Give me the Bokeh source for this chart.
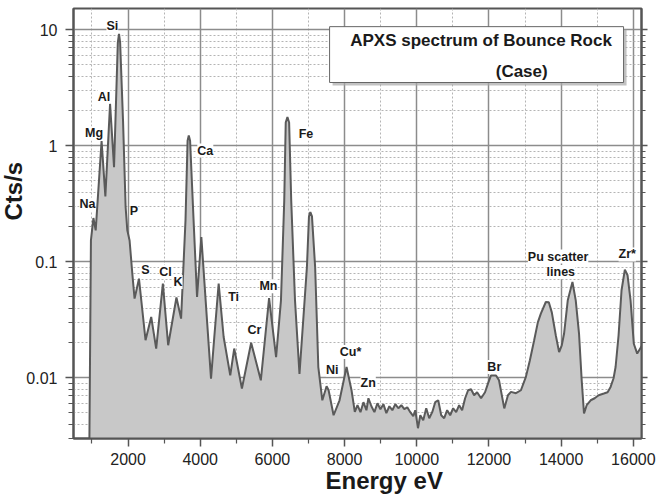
from bokeh.plotting import figure
from bokeh.models import (ColumnDataSource, FixedTicker, LogAxis, Label, LabelSet,
                          CustomJSTickFormatter, Title)
from bokeh.core.properties import value
from bokeh.embed import file_html
from bokeh.resources import INLINE

# ---- spectrum (energy in eV, counts per second) ----
energy = [930, 972, 1041, 1104, 1267, 1372, 1502, 1612, 1717, 1750, 1781, 1861, 1933, 1980,
          2043, 2118, 2181, 2303, 2485, 2642, 2780, 2965, 3112, 3341, 3470, 3592, 3650, 3683,
          3719, 3816, 3912, 4031, 4188, 4299, 4390, 4511, 4649, 4832, 4942, 5155, 5411, 5679,
          5908, 6102, 6237, 6328, 6369, 6416, 6463, 6521, 6626, 6750, 6956, 7013, 7051, 7096,
          7184, 7272, 7383, 7501, 7557, 7695, 7860, 8054, 8192, 8283, 8357, 8440, 8522, 8605,
          8660, 8743, 8826, 8909, 8992, 9075, 9157, 9240, 9323, 9406, 9489, 9572, 9655, 9737,
          9820, 9903, 9958, 10033, 10097, 10179, 10262, 10345, 10428, 10511, 10594, 10677,
          10759, 10842, 10925, 11008, 11091, 11174, 11256, 11339, 11422, 11505, 11588, 11671,
          11781, 11891, 11974, 12057, 12195, 12278, 12424, 12526, 12609, 12747, 12885, 13023,
          13134, 13252, 13354, 13437, 13575, 13658, 13741, 13851, 13943, 14017, 14081, 14183,
          14313, 14404, 14495, 14569, 14633, 14707, 14818, 14928, 15039, 15183, 15287, 15370,
          15452, 15508, 15591, 15673, 15765, 15840, 15923, 16013, 16107, 16245]
counts = [0.003, 0.153, 0.239, 0.187, 1.10, 0.367, 2.31, 0.656, 7.78, 9.24, 7.78, 1.66, 0.297, 0.187,
          0.153, 0.0796, 0.0482, 0.0716, 0.0211, 0.0335, 0.0179, 0.0649, 0.0191, 0.0493, 0.0324, 0.228, 1.11, 1.23,
          1.11, 0.228, 0.0498, 0.164, 0.0313, 0.00986, 0.0225, 0.0649, 0.0225, 0.0105, 0.0179, 0.0081, 0.0201, 0.00953,
          0.0488, 0.0151, 0.0466, 0.339, 1.59, 1.77, 1.59, 0.339, 0.0466, 0.0108, 0.0902, 0.247, 0.269, 0.247,
          0.0902, 0.0124, 0.00641, 0.00847, 0.00782, 0.00476, 0.00641, 0.0124, 0.00782, 0.00508, 0.00581, 0.00506, 0.00617, 0.00526,
          0.00667, 0.00569, 0.00506, 0.00604, 0.00537, 0.00593, 0.00496, 0.00569, 0.00526, 0.00593, 0.00547, 0.00581, 0.00537, 0.00558,
          0.00506, 0.00467, 0.00526, 0.00368, 0.00476, 0.00431, 0.00547, 0.00449, 0.00506, 0.00617, 0.00641, 0.00476,
          0.00449, 0.00526, 0.00476, 0.00547, 0.00506, 0.00581, 0.00526, 0.00667, 0.00782, 0.00798, 0.00708, 0.00752,
          0.00667, 0.00752, 0.00897, 0.0105, 0.0105, 0.00953, 0.00545, 0.00708, 0.00757, 0.00738, 0.00782, 0.0102,
          0.0142, 0.0211, 0.0301, 0.0358, 0.0451, 0.0448, 0.0367, 0.0233, 0.0167, 0.0191, 0.0241, 0.0466,
          0.0670, 0.0466, 0.0241, 0.00953, 0.00493, 0.00581, 0.00641, 0.00667, 0.00708, 0.00733, 0.00752, 0.00835,
          0.00993, 0.0124, 0.0233, 0.0569, 0.0857, 0.0766, 0.0466, 0.0197, 0.0162, 0.0191]

# ---- peak labels ----
label_text = ["Na", "Mg", "Al", "Si", "P", "S", "Cl", "K", "Ca", "Ti", "Cr", "Mn", "Fe",
              "Ni", "Cu*", "Zn", "Br", "Pu scatter", "lines", "Zr*"]
label_energy = [875, 1060, 1336, 1565, 2164, 2485, 3037, 3388, 4141, 4925, 5505, 5891, 6930,
                7659, 8164, 8653, 12148, 13915, 13991, 15832]
label_counts = [0.313, 1.28, 2.66, 10.9, 0.274, 0.0845, 0.0817, 0.067, 0.912, 0.0498, 0.0261, 0.0615, 1.27,
                0.0118, 0.0167, 0.00904, 0.0124, 0.111, 0.0817, 0.116]

# ---- axes ----
x_major = [2000, 4000, 6000, 8000, 10000, 12000, 14000, 16000]
x_minor = [1000, 3000, 5000, 7000, 9000, 11000, 13000, 15000]
y_major = [0.01, 0.1, 1, 10]
y_minor = [m * d for d in (0.001, 0.01, 0.1, 1) for m in range(2, 10)]

title_lines = ["APXS spectrum of Bounce Rock", "(Case)"]
x_label = "Energy eV"
y_label = "Cts/s"

FONT = "Liberation Sans"
DARK = "#555555"

p = figure(width=658, height=500, x_range=(489, 16226), y_range=(0.003, 15.3),
           y_axis_type="log", output_backend="svg", toolbar_location=None,
           min_border_left=71, min_border_right=17, min_border_top=8, min_border_bottom=62)

p.background_fill_color = "white"
p.border_fill_color = "white"
p.outline_line_color = DARK
p.outline_line_width = 2

xt = FixedTicker(ticks=x_major, minor_ticks=x_minor)
yt = FixedTicker(ticks=y_major, minor_ticks=y_minor)

p.xaxis.ticker = xt
p.yaxis.ticker = yt
p.xgrid.ticker = xt
p.ygrid.ticker = yt
p.yaxis.formatter = CustomJSTickFormatter(code="return tick.toString();")

for g in (p.xgrid, p.ygrid):
    g.grid_line_color = "#8c8c8c"
    g.grid_line_width = 1.5
    g.minor_grid_line_color = "#b4b4b4"
    g.minor_grid_line_dash = "2 2"
    g.minor_grid_line_width = 1

ry = LogAxis(ticker=yt, formatter=CustomJSTickFormatter(code="return '';"))
p.add_layout(ry, "right")

for ax in (p.xaxis[0], p.yaxis[0], ry):
    ax.axis_line_color = DARK
    ax.axis_line_width = 2
    ax.major_tick_line_color = DARK
    ax.major_tick_line_width = 1.5
    ax.minor_tick_line_color = DARK
    ax.minor_tick_line_width = 1.2
    ax.major_tick_in = 0
    ax.minor_tick_in = 0
    ax.major_tick_out = 8
    ax.minor_tick_out = 5
    ax.major_label_text_font = FONT
    ax.major_label_text_font_size = "16px"
    ax.major_label_text_color = "#222222"
ry.major_tick_out = 6
ry.minor_tick_out = 4
p.yaxis[0].major_label_standoff = 8
p.xaxis[0].major_label_standoff = 6

# axis titles as side titles (offset only works with left/right alignment)
p.add_layout(Title(text=x_label, align="left", offset=252, standoff=-6, text_font=FONT,
                   text_font_size="24px", text_font_style="bold", text_color="#1a1a1a"), "below")
p.add_layout(Title(text=y_label, align="left", offset=218, standoff=-6, text_font=FONT,
                   text_font_size="24px", text_font_style="bold", text_color="#1a1a1a"), "left")

# spectrum
p.varea(x=energy, y1=1e-4, y2=counts, fill_color="#c8c8c8")
p.line(energy, counts, line_color="#5a5a5a", line_width=2)

# title box with shadow
p.quad(left=[7584 + 83], right=[15729 + 83], top=[10.67 * 0.942], bottom=[3.52 * 0.942],
       fill_color="#a8a8a8", fill_alpha=0.7, line_color=None)
p.quad(left=[7584], right=[15729], top=[10.67], bottom=[3.52],
       fill_color="white", line_color="#666666", line_width=1)
p.add_layout(Label(x=11781, y=8.09, text=title_lines[0], text_font=FONT, text_font_size="17px",
                   text_font_style="bold", text_color="#1a1a1a", text_align="center",
                   text_baseline="middle"))
p.add_layout(Label(x=12907, y=4.40, text=title_lines[1], text_font=FONT, text_font_size="17px",
                   text_font_style="bold", text_color="#1a1a1a", text_align="center",
                   text_baseline="middle"))

# peak labels
src = ColumnDataSource(dict(x=label_energy, y=label_counts, text=label_text))
p.add_layout(LabelSet(x="x", y="y", text="text", source=src, text_font=value(FONT),
                      text_font_size="12.5px", text_font_style="bold", text_color="#1a1a1a",
                      text_align="center", text_baseline="middle",
                      background_fill_color="white"))

open("out.html", "w").write(file_html(p, INLINE))
